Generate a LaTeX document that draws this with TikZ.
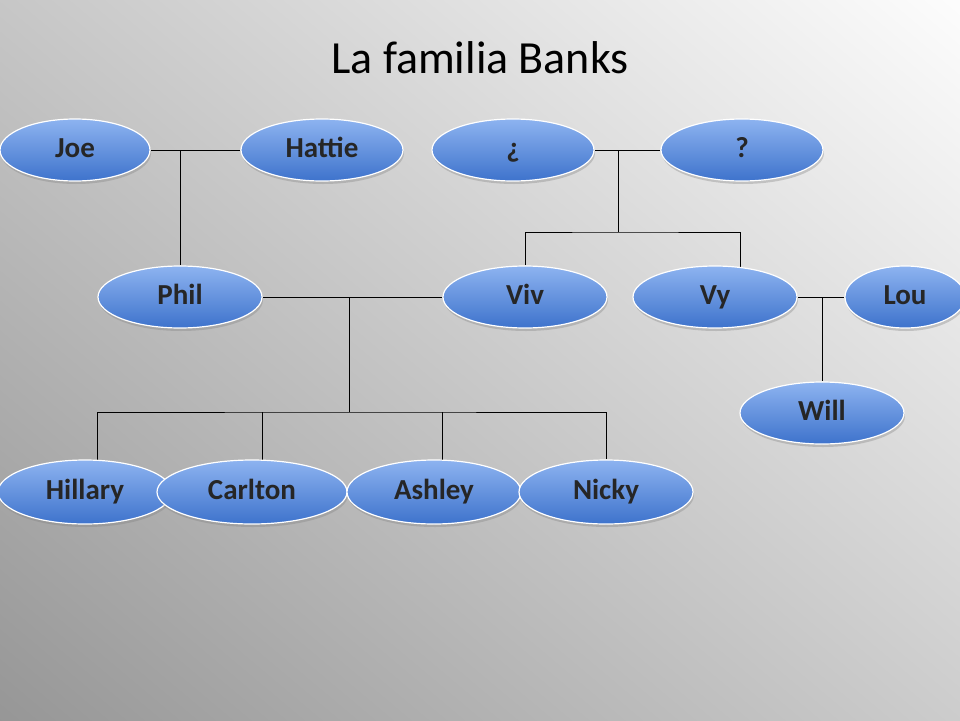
\documentclass[tikz,border=0pt]{standalone}
\usepackage{fontspec}
\setmainfont{Carlito}
\usetikzlibrary{shapes.geometric,shadows}
\pgfdeclarelayer{bg}\pgfdeclarelayer{lines}
\pgfsetlayers{bg,lines,main}
\definecolor{ctop}{HTML}{8DB3F0}
\definecolor{cbot}{HTML}{3E73CC}
\begin{document}
\begin{tikzpicture}[x=1pt,y=-1pt,
  person/.style={ellipse,draw=white,line width=1.2pt,top color=ctop,bottom color=cbot,
    minimum width=150pt,minimum height=62pt,inner sep=0pt,font=\bfseries\fontsize{29}{30}\selectfont,text=black!85,
    text height=20pt,text depth=5pt,
    drop shadow={shadow xshift=1pt,shadow yshift=-3pt,opacity=0.35}},
  wide/.style={minimum width=174pt,minimum height=64pt},
  link/.style={draw=black,line width=0.6pt}]
\useasboundingbox (0,0) rectangle (960,720);
\begin{pgfonlayer}{bg}
\shade[top color=white,bottom color=black!42,shading angle=-40] (-200,-200) rectangle (1160,920);
\end{pgfonlayer}
\clip (0,0) rectangle (960,720);
\node[font=\fontsize{46}{50}\selectfont,text=black] (title) at (480,58) {La familia Banks};
\node[person] (joe) at (75,150) {Joe};
\node[person,minimum width=162pt] (hattie) at (322,150) {Hattie};
\node[person,minimum width=162pt] (q1) at (513,150) {¿};
\node[person,minimum width=162pt] (q2) at (742,150) {?};
\node[person,minimum width=164pt] (phil) at (180,297) {Phil};
\node[person,minimum width=164pt] (viv) at (525,297) {Viv};
\node[person,minimum width=164pt] (vy) at (715,297) {Vy};
\node[person,minimum width=120pt] (lou) at (905,297) {Lou};
\node[person,minimum width=164pt] (will) at (822,413) {Will};
\node[person,wide] (hillary) at (85,492) {Hillary};
\node[person,wide,minimum width=190pt] (carlton) at (252,492) {Carlton};
\node[person,wide] (ashley) at (434,492) {Ashley};
\node[person,wide] (nicky) at (606,492) {Nicky};
\coordinate (m1) at (180,150);
\coordinate (m2) at (618,150);
\coordinate (b2) at (618,232);
\coordinate (vyt) at (740,275);
\coordinate (m3) at (349,297);
\coordinate (b3) at (349,412);
\coordinate (m4) at (822,297);
\begin{pgfonlayer}{lines}
\draw[link] (joe.east) -- (hattie.west);
\draw[link] (m1) -- (phil.north);
\draw[link] (q1.east) -- (q2.west);
\draw[link] (m2) -- (b2);
\draw[link] (viv.north) |- (b2) -| (vyt);
\draw[link] (phil.east) -- (viv.west);
\draw[link] (m3) -- (b3);
\draw[link] (97,470) |- (b3) -| (nicky.north);
\draw[link] (262,412) -- (262,470);
\draw[link] (442,412) -- (442,470);
\draw[link] (vy.east) -- (lou.west);
\draw[link] (m4) -- (will.north);
\end{pgfonlayer}
\end{tikzpicture}
\end{document}
